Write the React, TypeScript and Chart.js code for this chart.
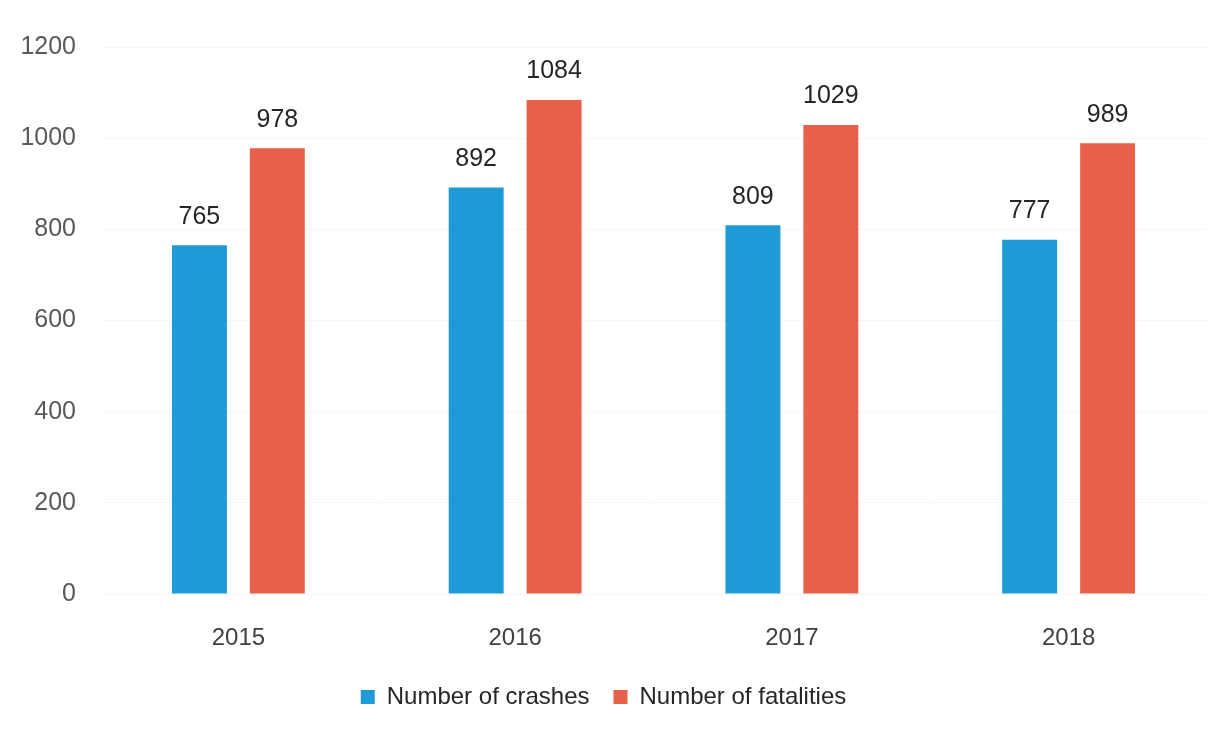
import React, { useEffect, useRef } from "react";
import { Chart, registerables } from "chart.js";

Chart.register(...registerables);

const years = ["2015", "2016", "2017", "2018"];
const crashes = [765, 892, 809, 777];
const fatalities = [978, 1084, 1029, 989];
const yTicks = [0, 200, 400, 600, 800, 1000, 1200];

const FONT = "'Liberation Sans', 'Noto Sans', sans-serif";

const valueLabels = {
  id: "valueLabels",
  afterDatasetsDraw(chart: any) {
    const { ctx } = chart;
    ctx.save();
    ctx.font = `25px ${FONT}`;
    ctx.fillStyle = "#262626";
    ctx.textAlign = "center";
    ctx.textBaseline = "bottom";
    chart.data.datasets.forEach((ds: any, i: number) => {
      const meta = chart.getDatasetMeta(i);
      meta.data.forEach((bar: any, j: number) => {
        ctx.fillText(String(ds.data[j]), bar.x, bar.y - 16);
      });
    });
    ctx.restore();
  },
};

export default function App() {
  const ref = useRef<HTMLCanvasElement>(null);
  useEffect(() => {
    const chart = new Chart(ref.current!, {
      type: "bar",
      data: {
        labels: years,
        datasets: [
          {
            label: "Number of crashes",
            data: crashes,
            backgroundColor: "#1E9AD6",
            categoryPercentage: 0.563,
            barPercentage: 0.705,
          },
          {
            label: "Number of fatalities",
            data: fatalities,
            backgroundColor: "#E8604A",
            categoryPercentage: 0.563,
            barPercentage: 0.705,
          },
        ],
      },
      options: {
        responsive: false,
        animation: false,
        layout: { padding: { top: 47, right: 20, left: 0, bottom: 14 } },
        plugins: {
          legend: {
            position: "bottom",
            labels: {
              boxWidth: 14,
              boxHeight: 14,
              padding: 24,
              color: "#262626",
              font: { family: FONT, size: 24 },
            },
          },
          tooltip: { enabled: false },
        },
        scales: {
          x: {
            grid: { display: false },
            border: { display: false },
            ticks: {
              color: "#404040",
              padding: 22,
              font: { family: FONT, size: 24 },
            },
            afterFit(scale: any) {
              scale.height = 67;
            },
          },
          y: {
            min: 0,
            max: 1200,
            afterBuildTicks(scale: any) {
              scale.ticks = yTicks.map((v) => ({ value: v }));
            },
            grid: { color: "rgba(0,0,0,0.035)", drawTicks: false },
            border: { display: false },
            ticks: {
              color: "#595959",
              padding: 24,
              font: { family: FONT, size: 25 },
              callback: (v: any) => String(v),
            },
            afterFit(scale: any) {
              scale.width = 100;
            },
          },
        },
      },
      plugins: [valueLabels],
    });
    return () => chart.destroy();
  }, []);
  return (
    <div style={{ position: "fixed", left: 0, top: 0, width: 1227, height: 733, background: "#fff" }}>
      <canvas ref={ref} width={1227} height={733} />
    </div>
  );
}
